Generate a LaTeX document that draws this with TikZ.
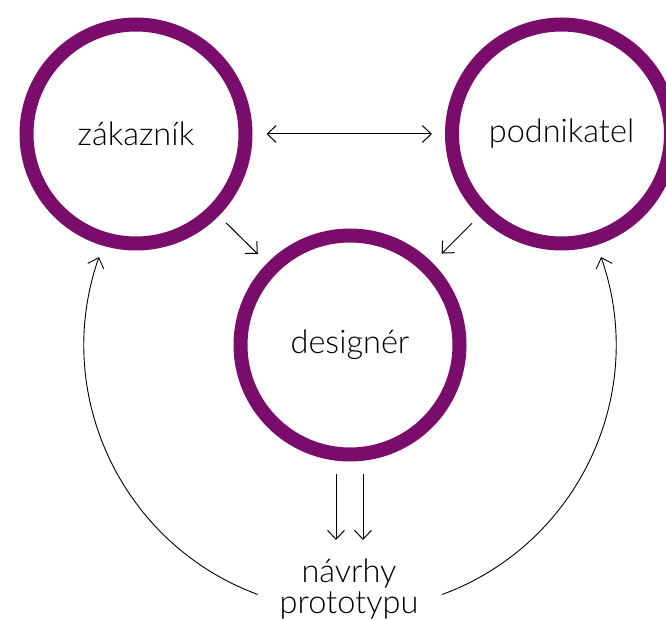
\documentclass[tikz,border=0pt]{standalone}
\usepackage{fontspec}
\setmainfont{Lato Light}
\usetikzlibrary{arrows.meta}
\definecolor{plum}{RGB}{122,13,107}
\begin{document}
\begin{tikzpicture}[x=1pt,y=1pt,
  label text/.style={font=\fontsize{32.5}{31}\selectfont},
  role/.style={circle, draw=plum, line width=14pt, minimum size=219pt,
    inner sep=0pt, label text},
  tip/.style={-{Straight Barb[length=9pt,width=17pt]}},
  flow/.style={line width=1pt, tip},
  loop/.style={line width=0.9pt, tip}]
\useasboundingbox (0,0) rectangle (666,619);

% the three roles
\node[role] (zak) at (136,485) {zákazník};
\node[role] (pod) at (561.5,485) {podnikatel};
\node[role] (des) at (350,274) {designér};

% output of the designer (base = baseline of the last line)
\node[label text, align=center, inner sep=0pt, anchor=base]
  (proto) at (349,6) {návrhy\\prototypu};

% links between the roles
\draw[flow, {Straight Barb[length=9pt,width=17pt]}-{Straight Barb[length=9pt,width=17pt]},
  shorten <=14pt, shorten >=13pt] (zak) -- (pod);
\draw[flow, shorten <=10pt, shorten >=13pt] (zak) -- (des);
\draw[flow, shorten <=10pt, shorten >=13pt] (pod) -- (des);

% designer produces the prototypes
\draw[flow, shorten <=12pt] ([xshift=-14pt]des.south) -- ([xshift=-14pt]des.south |- 0,79);
\draw[flow, shorten <=12pt] ([xshift=13pt]des.south) -- ([xshift=13pt]des.south |- 0,79);

% feedback loops back to customer and entrepreneur, arcs round the designer
\draw[loop] (des.center) ++(249.7:266) arc[start angle=249.7, end angle=160.7, radius=266];
\draw[loop] (des.center) ++(290.3:266) arc[start angle=290.3, end angle=379.3, radius=266];
\end{tikzpicture}
\end{document}
